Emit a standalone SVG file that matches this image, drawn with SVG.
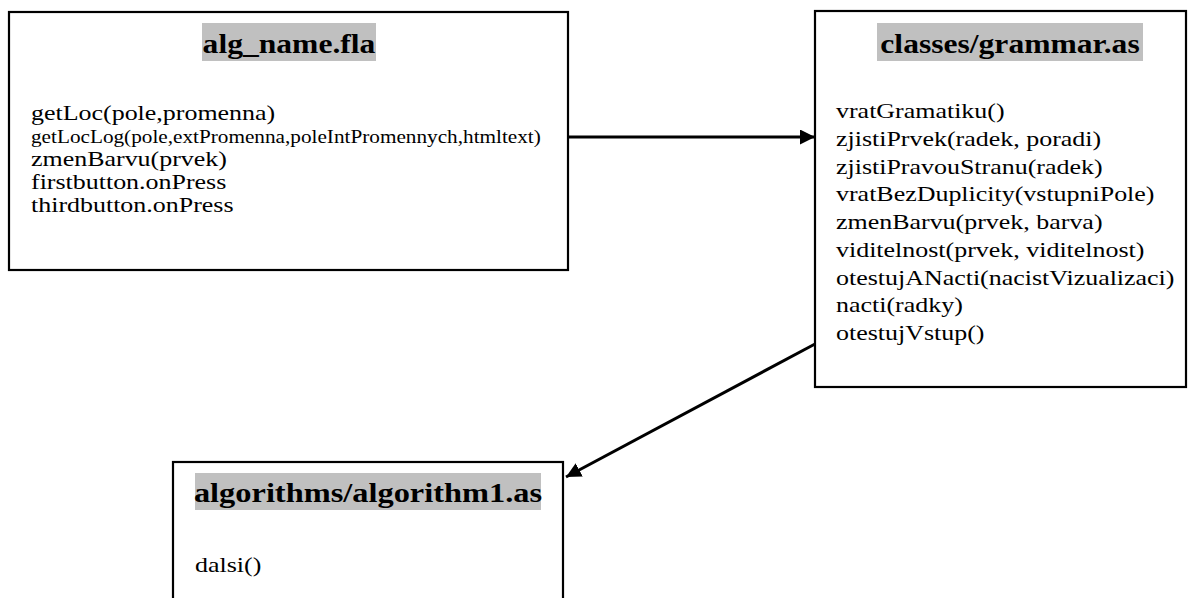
<svg xmlns="http://www.w3.org/2000/svg" width="1195" height="598" viewBox="0 0 1195 598">
<style>
.box{fill:#fff;stroke:#000;stroke-width:2.2}
.hl{fill:#c0c0c0}
.t{font-family:"Liberation Serif","Times New Roman",serif;font-weight:bold;font-size:27px;text-anchor:middle;fill:#000}
.b{font-family:"Liberation Serif","Times New Roman",serif;font-size:22px;fill:#000}
.s{font-family:"Liberation Serif","Times New Roman",serif;font-size:18px;fill:#000}
.c{fill:none;stroke:#000;stroke-width:3}
</style>
<defs>
<marker id="ah" viewBox="0 0 10 10" refX="10" refY="5" markerWidth="5" markerHeight="5" markerUnits="strokeWidth" orient="auto">
<path d="M0,0 L10,5 L0,10 z" fill="#000"/>
</marker>
</defs>
<g id="node-alg-name">
<rect class="box" x="9" y="12" width="559" height="258"/>
<rect class="hl" x="202" y="23" width="174" height="38"/>
<text class="t" transform="translate(289,53) scale(1.17,1)">alg_name.fla</text>
<text class="b" transform="translate(31,120) scale(1.18,1)">getLoc(pole,promenna)</text>
<text class="s" transform="translate(31,143) scale(1.18,1)">getLocLog(pole,extPromenna,poleIntPromennych,htmltext)</text>
<text class="b" transform="translate(31,166) scale(1.18,1)">zmenBarvu(prvek)</text>
<text class="b" transform="translate(31,189) scale(1.18,1)">firstbutton.onPress</text>
<text class="b" transform="translate(31,212) scale(1.18,1)">thirdbutton.onPress</text>
</g>
<g id="node-grammar">
<rect class="box" x="815" y="11" width="371" height="376"/>
<rect class="hl" x="877" y="23" width="266" height="38"/>
<text class="t" transform="translate(1010,53) scale(1.17,1)">classes/grammar.as</text>
<text class="b" transform="translate(836,118) scale(1.18,1)">vratGramatiku()</text>
<text class="b" transform="translate(836,145.75) scale(1.18,1)">zjistiPrvek(radek, poradi)</text>
<text class="b" transform="translate(836,173.5) scale(1.18,1)">zjistiPravouStranu(radek)</text>
<text class="b" transform="translate(836,201.25) scale(1.18,1)">vratBezDuplicity(vstupniPole)</text>
<text class="b" transform="translate(836,229) scale(1.18,1)">zmenBarvu(prvek, barva)</text>
<text class="b" transform="translate(836,256.75) scale(1.18,1)">viditelnost(prvek, viditelnost)</text>
<text class="b" transform="translate(836,284.5) scale(1.18,1)">otestujANacti(nacistVizualizaci)</text>
<text class="b" transform="translate(836,312.25) scale(1.18,1)">nacti(radky)</text>
<text class="b" transform="translate(836,340) scale(1.18,1)">otestujVstup()</text>
</g>
<g id="node-algorithm1">
<rect class="box" x="173" y="462" width="390" height="150"/>
<rect class="hl" x="195" y="473" width="346" height="37"/>
<text class="t" transform="translate(368,502) scale(1.2,1)">algorithms/algorithm1.as</text>
<text class="b" transform="translate(195,572) scale(1.18,1)">dalsi()</text>
</g>
<g id="connectors">
<line class="c" x1="568" y1="137" x2="815" y2="137" marker-end="url(#ah)"/>
<line class="c" x1="815" y1="344" x2="566" y2="477" marker-end="url(#ah)"/>
</g>
</svg>
